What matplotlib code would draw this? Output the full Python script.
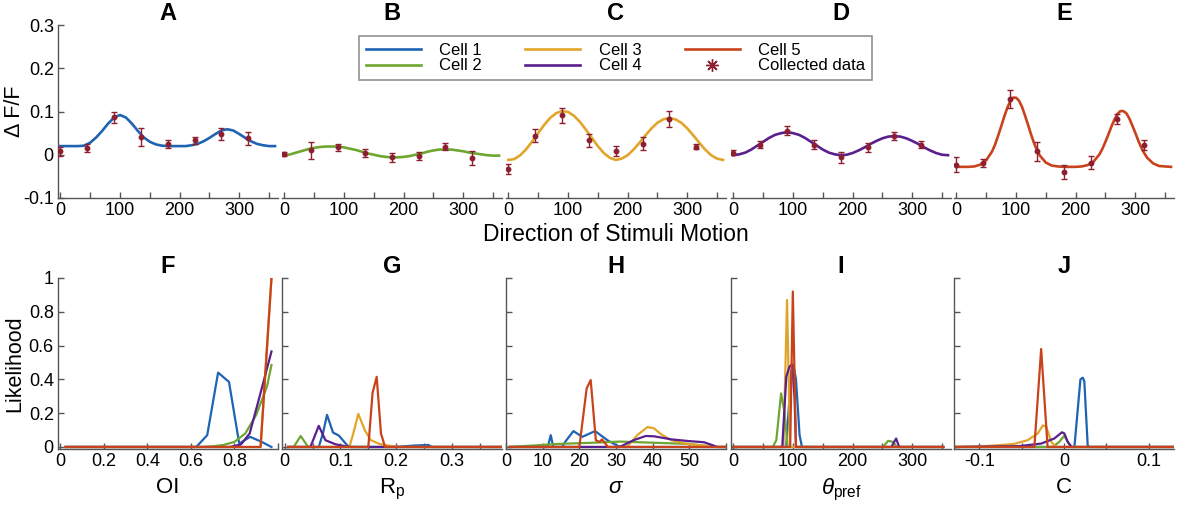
import matplotlib
matplotlib.use('Agg')
import matplotlib.pyplot as plt
from matplotlib.lines import Line2D

plt.rcParams['font.family'] = ['Liberation Sans', 'DejaVu Sans']
plt.rcParams['mathtext.fontset'] = 'custom'
plt.rcParams['mathtext.rm'] = 'Liberation Sans'
plt.rcParams['mathtext.it'] = 'Liberation Sans:italic'

# ---- data -------------------------------------------------------------
CELL_NAMES = ['Cell 1', 'Cell 2', 'Cell 3', 'Cell 4', 'Cell 5']
CELL_COLORS = ['#1f63b3', '#6fa632', '#e2a52b', '#5a1f8e', '#c8431b']
DATA_COLOR = '#8e1f30'

# fitted tuning curves (degrees, dF/F)
FIT_ANGLES = list(range(0, 361, 10))
CELL1_FIT = [0.020, 0.020, 0.020, 0.020, 0.021, 0.028, 0.040, 0.055, 0.072, 0.086,
             0.092, 0.086, 0.072, 0.055, 0.040, 0.030, 0.024, 0.021, 0.020, 0.020,
             0.020, 0.020, 0.022, 0.025, 0.031, 0.039, 0.048, 0.056, 0.059, 0.056,
             0.048, 0.039, 0.031, 0.025, 0.022, 0.020, 0.020]
CELL2_FIT = [-0.002, 0.001, 0.005, 0.009, 0.013, 0.016, 0.018, 0.019, 0.019, 0.019,
             0.017, 0.014, 0.011, 0.007, 0.003, 0.000, -0.003, -0.005, -0.006, -0.006,
             -0.005, -0.003, 0.000, 0.003, 0.007, 0.010, 0.012, 0.012, 0.012, 0.010,
             0.008, 0.005, 0.003, 0.001, -0.001, -0.002, -0.002]
CELL3_FIT = [-0.012, -0.010, -0.001, 0.013, 0.031, 0.050, 0.069, 0.085, 0.096, 0.101,
             0.099, 0.090, 0.076, 0.058, 0.039, 0.020, 0.004, -0.007, -0.012, -0.009,
             -0.001, 0.012, 0.028, 0.045, 0.061, 0.074, 0.082, 0.085, 0.082, 0.074,
             0.061, 0.045, 0.028, 0.012, -0.001, -0.009, -0.012]
CELL4_FIT = [-0.001, 0.001, 0.005, 0.012, 0.021, 0.030, 0.039, 0.046, 0.050, 0.052,
             0.050, 0.046, 0.039, 0.030, 0.021, 0.012, 0.005, 0.001, -0.001, 0.000,
             0.004, 0.010, 0.017, 0.025, 0.032, 0.038, 0.042, 0.043, 0.042, 0.038,
             0.032, 0.025, 0.017, 0.010, 0.004, 0.000, -0.001]
# cell 5 has sharp peaks, so it is read at a finer step around them
CELL5_ANGLES = [0, 10, 20, 30, 40, 50,
                60, 65, 70, 75, 80, 85, 90, 95, 100, 105, 110, 115, 120, 125, 130, 135, 140,
                150, 160, 170, 180, 190, 200, 210, 220, 230,
                240, 245, 250, 255, 260, 265, 270, 275, 280, 285, 290, 295, 300, 305, 310, 315, 320,
                330, 340, 350, 360]
CELL5_FIT = [-0.028, -0.028, -0.028, -0.027, -0.023, -0.013,
             0.008, 0.024, 0.044, 0.065, 0.087, 0.107, 0.123, 0.132, 0.132, 0.125, 0.111,
             0.091, 0.070, 0.048, 0.028, 0.011, -0.002,
             -0.018, -0.025, -0.027, -0.028, -0.028, -0.028, -0.027, -0.024, -0.016,
             0.001, 0.014, 0.030, 0.047, 0.065, 0.081, 0.094, 0.101, 0.101, 0.096, 0.084,
             0.068, 0.051, 0.033, 0.017, 0.004, -0.007,
             -0.020, -0.026, -0.027, -0.028]

# collected data (mean +/- error) at the stimulus directions
DIRECTIONS = [0, 45, 90, 135, 180, 225, 270, 315]
CELL1_MEAN = [0.008, 0.016, 0.087, 0.042, 0.025, 0.034, 0.048, 0.038]
CELL1_ERR = [0.010, 0.010, 0.013, 0.021, 0.009, 0.008, 0.013, 0.015]
CELL2_MEAN = [0.002, 0.010, 0.017, 0.004, -0.006, -0.002, 0.019, -0.008]
CELL2_ERR = [0.005, 0.019, 0.009, 0.009, 0.011, 0.009, 0.009, 0.016]
CELL3_MEAN = [-0.033, 0.044, 0.091, 0.033, 0.009, 0.026, 0.083, 0.019]
CELL3_ERR = [0.011, 0.015, 0.017, 0.015, 0.011, 0.015, 0.019, 0.006]
CELL4_MEAN = [0.005, 0.023, 0.056, 0.023, -0.006, 0.017, 0.043, 0.023]
CELL4_ERR = [0.005, 0.008, 0.010, 0.010, 0.012, 0.010, 0.010, 0.008]
CELL5_MEAN = [-0.023, -0.019, 0.128, 0.008, -0.039, -0.018, 0.083, 0.023]
CELL5_ERR = [0.017, 0.009, 0.021, 0.022, 0.016, 0.014, 0.012, 0.012]

# parameter likelihoods, (x, y) nodes per cell
F_CELL1 = [(0.025, 0), (0.625, 0), (0.675, 0.07), (0.725, 0.44), (0.775, 0.385),
           (0.822, 0.02), (0.872, 0.06), (0.925, 0.03), (0.97, 0)]
F_CELL2 = [(0.025, 0), (0.65, 0), (0.70, 0.004), (0.75, 0.012), (0.80, 0.03),
           (0.85, 0.08), (0.90, 0.19), (0.95, 0.36), (0.97, 0.485)]
F_CELL3 = [(0.025, 0), (0.92, 0), (0.97, 1.0)]
F_CELL4 = [(0.025, 0), (0.78, 0), (0.83, 0.015), (0.87, 0.08), (0.92, 0.32), (0.97, 0.565)]
F_CELL5 = [(0.025, 0), (0.92, 0), (0.97, 1.0)]

G_CELL1 = [(0.006, 0), (0.061, 0), (0.0685, 0.08), (0.0758, 0.19), (0.0867, 0.085),
           (0.097, 0.068), (0.112, 0.01), (0.116, 0), (0.2, 0), (0.23, 0.008),
           (0.258, 0.012), (0.264, 0), (0.388, 0)]
G_CELL2 = [(0.006, 0), (0.016, 0), (0.0285, 0.065), (0.042, 0), (0.388, 0)]
G_CELL3 = [(0.006, 0), (0.116, 0), (0.123, 0.08), (0.132, 0.196), (0.1436, 0.10),
           (0.1545, 0.04), (0.17, 0.018), (0.19, 0.006), (0.205, 0), (0.388, 0)]
G_CELL4 = [(0.006, 0), (0.046, 0), (0.061, 0.125), (0.073, 0.04), (0.091, 0.016),
           (0.11, 0.003), (0.12, 0), (0.388, 0)]
G_CELL5 = [(0.006, 0), (0.15, 0), (0.1576, 0.32), (0.165, 0.415), (0.1727, 0.08),
           (0.18, 0), (0.388, 0)]

H_CELL1 = [(1, 0), (11.4, 0), (12.2, 0.07), (12.9, 0), (15.3, 0), (16.3, 0.035),
           (18.4, 0.094), (20.8, 0.06), (24.3, 0.094), (27.8, 0.038), (30.6, 0.005),
           (32, 0), (60, 0)]
H_CELL2 = [(1, 0), (4.8, 0.005), (14.2, 0.018), (23.6, 0.025), (31, 0.032),
           (40.4, 0.025), (49.8, 0.018), (55.4, 0.005), (58, 0), (60, 0)]
H_CELL3 = [(1, 0), (33, 0), (35.8, 0.07), (38.6, 0.118), (40.4, 0.11), (42.3, 0.075),
           (45.1, 0.04), (48.9, 0.02), (55, 0.005), (57, 0), (60, 0)]
H_CELL4 = [(1, 0), (31, 0), (34.8, 0.04), (38.1, 0.065), (40.4, 0.063), (45.1, 0.045),
           (49.8, 0.035), (54, 0.028), (56.4, 0.01), (57.5, 0), (60, 0)]
H_CELL5 = [(1, 0), (20, 0), (22, 0.347), (23.1, 0.396), (24.5, 0.04), (25.5, 0.03),
           (26.2, 0.045), (27.8, 0), (60, 0)]

I_CELL1 = [(0, 0), (88.6, 0), (97, 0.45), (101, 0.48), (105, 0.4), (111, 0.07),
           (115, 0), (352, 0)]
I_CELL2 = [(0, 0), (66, 0), (72, 0.04), (80, 0.317), (86, 0.2), (91, 0), (251, 0),
           (259.5, 0.036), (268, 0.03), (274, 0), (352, 0)]
I_CELL3 = [(0, 0), (84, 0), (90, 0.87), (95, 0), (352, 0)]
I_CELL4 = [(0, 0), (82, 0), (88.7, 0.415), (94, 0.475), (98.6, 0.49), (102.5, 0.3),
           (105, 0), (265, 0), (273, 0.05), (278, 0), (352, 0)]
I_CELL5 = [(0, 0), (95.3, 0), (99.7, 0.92), (105, 0), (352, 0)]

J_CELL1 = [(-0.128, 0), (0.0123, 0), (0.0194, 0.40), (0.0222, 0.41), (0.024, 0.39),
           (0.028, 0.01), (0.03, 0), (0.13, 0)]
J_CELL2 = [(-0.128, 0), (-0.0135, 0), (-0.0056, 0.03), (0.0004, 0.067), (0.0044, 0.03),
           (0.0083, 0), (0.13, 0)]
J_CELL3 = [(-0.128, 0), (-0.1, 0.003), (-0.079, 0.01), (-0.059, 0.018), (-0.043, 0.04),
           (-0.031, 0.08), (-0.025, 0.128), (-0.021, 0.12), (-0.015, 0.03),
           (-0.0095, 0), (0.13, 0)]
J_CELL4 = [(-0.128, 0), (-0.053, 0.005), (-0.027, 0.02), (-0.0115, 0.05), (-0.0024, 0.087),
           (0.0004, 0.08), (0.0044, 0.03), (0.009, 0), (0.13, 0)]
J_CELL5 = [(-0.128, 0), (-0.035, 0), (-0.027, 0.58), (-0.0194, 0), (0.13, 0)]

TOP_LETTERS = ['A', 'B', 'C', 'D', 'E']
BOTTOM_LETTERS = ['F', 'G', 'H', 'I', 'J']
BOTTOM_XLABELS = ['OI', r'$\mathregular{R_p}$', r'$\sigma$', r'$\theta_{\mathregular{pref}}$', 'C']

TOP_YTICKS = [-0.1, 0, 0.1, 0.2, 0.3]
TOP_YTICK_LABELS = ['-0.1', '0', '0.1', '0.2', '0.3']
DIR_TICKS = [0, 100, 200, 300]
DIR_TICK_LABELS = ['0', '100', '200', '300']
DIR_MINOR = [50, 150, 250, 350]
LIK_YTICKS = [0, 0.2, 0.4, 0.6, 0.8, 1.0]
LIK_YTICK_LABELS = ['0', '0.2', '0.4', '0.6', '0.8', '1']

BOTTOM_XLIMS = [(-0.01, 1.0), (-0.005, 0.39), (0, 60), (-4, 365), (-0.13, 0.13)]
BOTTOM_XTICKS = [[0, 0.2, 0.4, 0.6, 0.8, 1.0], [0, 0.1, 0.2, 0.3],
                 [0, 10, 20, 30, 40, 50, 60], [0, 100, 200, 300], [-0.1, 0, 0.1]]
BOTTOM_XTICK_LABELS = [['0', '0.2', '0.4', '0.6', '0.8', ''], ['0', '0.1', '0.2', '0.3'],
                       ['0', '10', '20', '30', '40', '50', ''], ['0', '100', '200', '300'],
                       ['-0.1', '0', '0.1']]
BOTTOM_MINOR = [[], [0.05, 0.15, 0.25, 0.35], [], [50, 150, 250, 350], [-0.05, 0.05]]

fit_x = [FIT_ANGLES, FIT_ANGLES, FIT_ANGLES, FIT_ANGLES, CELL5_ANGLES]
fits = [CELL1_FIT, CELL2_FIT, CELL3_FIT, CELL4_FIT, CELL5_FIT]
means = [CELL1_MEAN, CELL2_MEAN, CELL3_MEAN, CELL4_MEAN, CELL5_MEAN]
errs = [CELL1_ERR, CELL2_ERR, CELL3_ERR, CELL4_ERR, CELL5_ERR]
likelihoods = [
    [F_CELL1, F_CELL2, F_CELL3, F_CELL4, F_CELL5],
    [G_CELL1, G_CELL2, G_CELL3, G_CELL4, G_CELL5],
    [H_CELL1, H_CELL2, H_CELL3, H_CELL4, H_CELL5],
    [I_CELL1, I_CELL2, I_CELL3, I_CELL4, I_CELL5],
    [J_CELL1, J_CELL2, J_CELL3, J_CELL4, J_CELL5],
]

# ---- layout (pixel based) ---------------------------------------------
W, H = 1178, 507
fig = plt.figure(figsize=(W / 100, H / 100), dpi=100)

lefts = [58, 282, 506, 731, 954]
panel_w = 220
SPINE = '#555555'


def px_axes(left, top, width, height):
    return fig.add_axes([left / W, 1 - (top + height) / H, width / W, height / H])


def style(ax, show_left=True, left_labels=False):
    ax.spines['top'].set_visible(False)
    ax.spines['right'].set_visible(False)
    ax.spines['left'].set_visible(show_left)
    for s in ['left', 'bottom']:
        ax.spines[s].set_color(SPINE)
        ax.spines[s].set_linewidth(1.0)
    ax.tick_params(which='both', direction='in', length=4, width=1, color=SPINE,
                   labelsize=13, pad=3)
    ax.tick_params(axis='y', left=show_left, labelleft=left_labels)
    ax.patch.set_alpha(0)


# top row: tuning curves
for i in range(5):
    ax = px_axes(lefts[i], 25, panel_w, 173)
    style(ax, show_left=(i == 0), left_labels=(i == 0))
    ax.plot(fit_x[i], fits[i], color=CELL_COLORS[i], lw=1.9, zorder=2)
    ax.errorbar(DIRECTIONS, means[i], yerr=errs[i], fmt='o', ms=3.2, color=DATA_COLOR,
                ecolor=DATA_COLOR, elinewidth=1.0, capsize=2.2, capthick=1.0, zorder=3)
    ax.set_xlim(-4, 365)
    ax.set_ylim(-0.1, 0.3)
    ax.set_xticks(DIR_TICKS)
    ax.set_xticklabels(DIR_TICK_LABELS)
    ax.set_xticks(DIR_MINOR, minor=True)
    ax.set_yticks(TOP_YTICKS)
    ax.set_yticklabels(TOP_YTICK_LABELS)
    ax.set_title(TOP_LETTERS[i], fontsize=17, fontweight='bold', pad=1)
    if i == 0:
        ax.set_ylabel('\u0394 F/F', fontsize=15.5)
        ax.yaxis.set_label_coords(-0.15, 0.5)

fig.text(616 / W, 1 - 235 / H, 'Direction of Stimuli Motion', ha='center', va='center',
         fontsize=16.5)

# bottom row: likelihoods
for i in range(5):
    ax = px_axes(lefts[i], 278, panel_w, 171)
    style(ax, show_left=True, left_labels=(i == 0))
    for c in range(5):
        pts = likelihoods[i][c]
        ax.plot([p[0] for p in pts], [p[1] for p in pts], color=CELL_COLORS[c], lw=1.6)
    ax.set_xlim(*BOTTOM_XLIMS[i])
    ax.set_ylim(-0.012, 1.0)
    ax.set_xticks(BOTTOM_XTICKS[i])
    ax.set_xticklabels(BOTTOM_XTICK_LABELS[i])
    ax.set_xticks(BOTTOM_MINOR[i], minor=True)
    ax.set_yticks(LIK_YTICKS)
    ax.set_yticklabels(LIK_YTICK_LABELS)
    ax.set_title(BOTTOM_LETTERS[i], fontsize=17, fontweight='bold', pad=1)
    ax.set_xlabel(BOTTOM_XLABELS[i], fontsize=16)
    ax.xaxis.set_label_coords(0.5, -0.165)
    if i == 0:
        ax.set_ylabel('Likelihood', fontsize=15.5)
        ax.yaxis.set_label_coords(-0.15, 0.5)

# legend
handles = [Line2D([], [], color=c, lw=1.9) for c in CELL_COLORS]
handles.append(Line2D([], [], ls='none', marker=(8, 2, 0), ms=9, mew=1.0, color=DATA_COLOR))
labels = CELL_NAMES + ['Collected data']
leg = fig.legend(handles, labels, loc='center', bbox_to_anchor=(615.5 / W, 1 - 58 / H),
                 ncol=3, fontsize=12, frameon=True, fancybox=False, edgecolor='#777777',
                 handlelength=3.3, handletextpad=1.1, columnspacing=2.6,
                 labelspacing=0.05, borderpad=0.4, borderaxespad=0)
leg.get_frame().set_linewidth(1.2)

fig.savefig('out.png', dpi=100)
